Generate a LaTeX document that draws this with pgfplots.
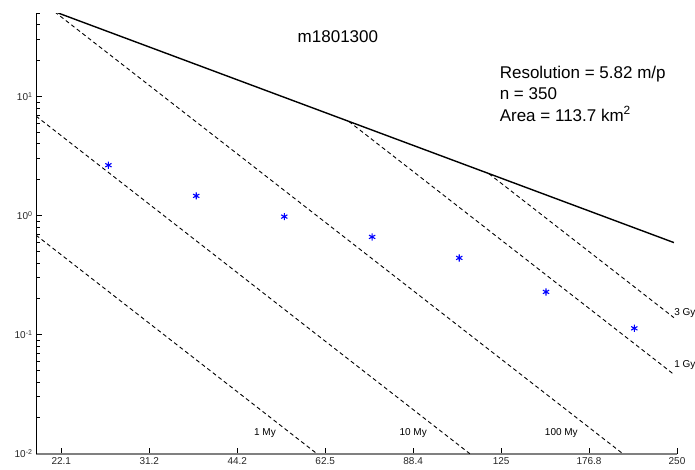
\documentclass[border=0pt]{standalone}
\usepackage{fontspec}
\setmainfont{Liberation Sans}
\usepackage{pgfplots}
\pgfplotsset{compat=1.18}

\begin{document}
\begin{tikzpicture}
\begin{loglogaxis}[
  scale only axis,
  width=641pt, height=440.4pt,
  xmin=20, xmax=250, ymin=0.01, ymax=50,
  axis lines=left,
  axis line style={-},
  x axis line style={-, draw=gray, line width=1.6pt},
  y axis line style={-, draw=black, line width=0.9pt},
  xtick={22.097,31.25,44.194,62.5,88.388,125,176.777,250},
  xticklabels={22.1,31.2,44.2,62.5,88.4,125,176.8,250},
  ytick={0.01,0.1,1,10},
  yticklabels={10\textsuperscript{-2},10\textsuperscript{-1},10\textsuperscript{0},10\textsuperscript{1}},
  minor ytick={0.02,0.03,0.04,0.05,0.06,0.07,0.08,0.09,
               0.2,0.3,0.4,0.5,0.6,0.7,0.8,0.9,
               2,3,4,5,6,7,8,9,20,30,40,50},
  minor xtick={},
  tick align=inside,
  major tick length=6pt,
  minor tick length=4pt,
  tick style={black, line width=0.8pt},
  ticklabel style={font=\fontsize{10}{12}\selectfont, text=black!85},
  clip mode=individual,
]
% saturation line
\addplot[black, line width=1.4pt] coordinates {(21.84,50.2) (247,0.593)};
% isochrons
\addplot[black, line width=0.9pt, dash pattern=on 4pt off 3pt] coordinates {(20,0.685) (60.5,0.01)};
\addplot[black, line width=0.9pt, dash pattern=on 4pt off 3pt] coordinates {(20,6.85) (110.5,0.01)};
\addplot[black, line width=0.9pt, dash pattern=on 4pt off 3pt] coordinates {(21.53,51.4) (201.9,0.01)};
\addplot[black, line width=0.9pt, dash pattern=on 4pt off 3pt] coordinates {(68.6,6.18) (247,0.0463)};
\addplot[black, line width=0.9pt, dash pattern=on 4pt off 3pt] coordinates {(119.1,2.25) (247,0.1388)};
% crater counts
\addplot[only marks, mark=asterisk, mark size=3.6pt, blue, mark options={line width=1.1pt}] coordinates {
  (26.6,2.65) (37.6,1.464) (53.2,0.98) (75.2,0.662) (106,0.441) (149.2,0.2285) (211.3,0.113)
};

\node[font=\fontsize{17}{20}\selectfont] at (rel axis cs:0.471,0.946) {m1801300};
\node[anchor=base west, font=\fontsize{17}{20}\selectfont] at (rel axis cs:0.718,0.853) {Resolution = 5.82 m/p};
\node[anchor=base west, font=\fontsize{17}{20}\selectfont] at (rel axis cs:0.718,0.804) {n = 350};
\node[anchor=base west, font=\fontsize{17}{20}\selectfont] at (rel axis cs:0.718,0.755) {Area = 113.7 km\textsuperscript{2}};

\node[anchor=west, font=\fontsize{10}{12}\selectfont, inner sep=1pt] at (rel axis cs:0.994,0.3195) {3 Gy};
\node[anchor=west, font=\fontsize{10}{12}\selectfont, inner sep=1pt] at (rel axis cs:0.994,0.2014) {1 Gy};
\node[anchor=east, font=\fontsize{10}{12}\selectfont, inner sep=1pt] at (rel axis cs:0.376,0.047) {1 My};
\node[anchor=east, font=\fontsize{10}{12}\selectfont, inner sep=1pt] at (rel axis cs:0.6115,0.047) {10 My};
\node[anchor=east, font=\fontsize{10}{12}\selectfont, inner sep=1pt] at (rel axis cs:0.847,0.047) {100 My};
\end{loglogaxis}
\pgfresetboundingbox
\useasboundingbox (-36pt,-16.3pt) rectangle (659pt,453.7pt);
\end{tikzpicture}
\end{document}
